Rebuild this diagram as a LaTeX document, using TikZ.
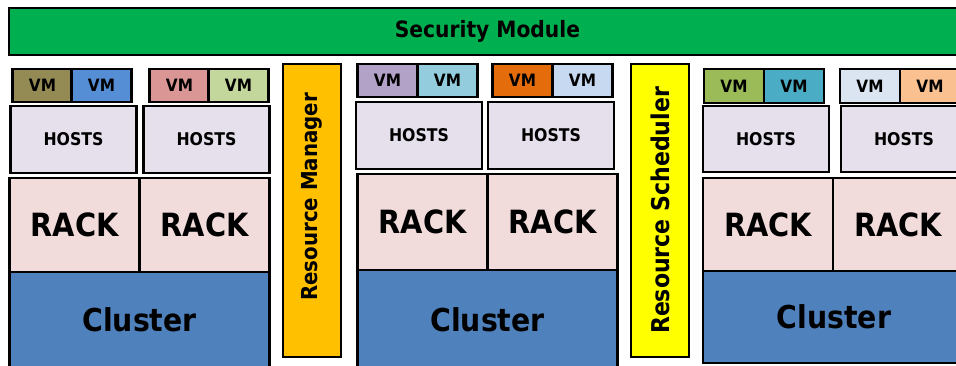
\documentclass[tikz,border=0pt]{standalone}
\usepackage{fontspec}
\setmainfont{DejaVu Sans Condensed}
\usepackage{xcolor}
\usetikzlibrary{shapes,positioning,calc}

\definecolor{secgreen}{HTML}{00B050}
\definecolor{hostfill}{HTML}{E6E0EC}
\definecolor{rackfill}{HTML}{F2DCDB}
\definecolor{clusterfill}{HTML}{4F81BD}
\definecolor{mgrfill}{HTML}{FFC000}
\definecolor{schedfill}{HTML}{FFFF00}
\definecolor{vmolive}{HTML}{948A54}
\definecolor{vmblue}{HTML}{558ED5}
\definecolor{vmpink}{HTML}{D99694}
\definecolor{vmlime}{HTML}{C3D69B}
\definecolor{vmlilac}{HTML}{B2A2C7}
\definecolor{vmcyan}{HTML}{93CDDD}
\definecolor{vmorange}{HTML}{E46C0A}
\definecolor{vmsky}{HTML}{C6D9F1}
\definecolor{vmgreen}{HTML}{9BBB59}
\definecolor{vmteal}{HTML}{4BACC6}
\definecolor{vmpale}{HTML}{DBE5F1}
\definecolor{vmpeach}{HTML}{FAC090}

\tikzset{
    unit/.style={draw=black,line width=2.5pt,inner sep=0pt,font=\bfseries},
    vmbox/.style={unit,minimum width=60pt,minimum height=33pt,font=\bfseries\fontsize{17}{18}\selectfont},
    hostbox/.style={unit,fill=hostfill,minimum width=126pt,minimum height=67pt,font=\bfseries\fontsize{17.5}{18}\selectfont},
    rackbox/.style={unit,fill=rackfill,minimum width=130pt,minimum height=94pt,font=\bfseries\fontsize{32}{34}\selectfont},
    clusterbox/.style={unit,fill=clusterfill,minimum width=260pt,font=\bfseries\fontsize{31.5}{33}\selectfont},
    sidebox/.style={unit,minimum width=58pt,minimum height=293pt}
}

\begin{document}
\begin{tikzpicture}[x=1pt,y=-1pt]
    \useasboundingbox (0,0) rectangle (956,365);
    \clip (0,0) rectangle (956,365);

    % Security layer
    \node[unit,fill=secgreen,minimum width=957pt,minimum height=47pt,font=\bfseries\fontsize{22.5}{24}\selectfont] (sec) at (487.5,31.5) {Security Module};

    % Left cluster
    \node[vmbox,fill=vmolive] (vm1) at (42.5,85.5) {VM};
    \node[vmbox,fill=vmblue] (vm2) at (101.5,85.5) {VM};
    \node[vmbox,fill=vmpink] (vm3) at (179.5,85.5) {VM};
    \node[vmbox,fill=vmlime] (vm4) at (238.5,85.5) {VM};
    \node[hostbox] (host1) at (73.5,139.5) {HOSTS};
    \node[hostbox] (host2) at (206.5,139.5) {HOSTS};
    \node[rackbox] (rack1) at (74.5,225) {RACK};
    \node[rackbox] (rack2) at (204.5,225) {RACK};
    \node[clusterbox,minimum height=120pt,text depth=24pt] (clus1) at (139.5,332) {Cluster};

    % Resource manager
    \node[sidebox,fill=mgrfill] (mgr) at (312,210.5) {};
    \node[rotate=90,font=\bfseries\fontsize{22}{24}\selectfont] (mgrtxt) at (312,197) {Resource Manager};

    % Middle cluster
    \node[vmbox,fill=vmlilac] (vm5) at (387.5,80.5) {VM};
    \node[vmbox,fill=vmcyan] (vm6) at (447.5,80.5) {VM};
    \node[vmbox,fill=vmorange] (vm7) at (522.5,80.5) {VM};
    \node[vmbox,fill=vmsky] (vm8) at (582.5,80.5) {VM};
    \node[hostbox] (host3) at (419,135.5) {HOSTS};
    \node[hostbox] (host4) at (551,135.5) {HOSTS};
    \node[rackbox,minimum height=96pt] (rack3) at (422.5,222) {RACK};
    \node[rackbox,minimum height=96pt] (rack4) at (552.5,222) {RACK};
    \node[clusterbox,minimum height=120pt,text depth=20pt] (clus2) at (487.5,330) {Cluster};

    % Resource scheduler
    \node[sidebox,fill=schedfill] (sched) at (660,210.5) {};
    \node[rotate=90,font=\bfseries\fontsize{24.5}{26}\selectfont] (schedtxt) at (sched.center) {Resource Scheduler};

    % Right cluster
    \node[vmbox,fill=vmgreen,minimum height=34pt] (vm9) at (734,86) {VM};
    \node[vmbox,fill=vmteal,minimum height=34pt] (vm10) at (794,86) {VM};
    \node[vmbox,fill=vmpale,minimum height=34pt] (vm11) at (870,86) {VM};
    \node[vmbox,fill=vmpeach,minimum height=34pt] (vm12) at (930,86) {VM};
    \node[hostbox,minimum height=66pt] (host5) at (766,139) {HOSTS};
    \node[hostbox,minimum height=66pt] (host6) at (904,139) {HOSTS};
    \node[rackbox,minimum height=93pt] (rack5) at (768,224.5) {RACK};
    \node[rackbox,minimum height=93pt] (rack6) at (898,224.5) {RACK};
    \node[clusterbox,minimum width=262pt,minimum height=92pt] (clus3) at (834,317) {Cluster};
\end{tikzpicture}
\end{document}
